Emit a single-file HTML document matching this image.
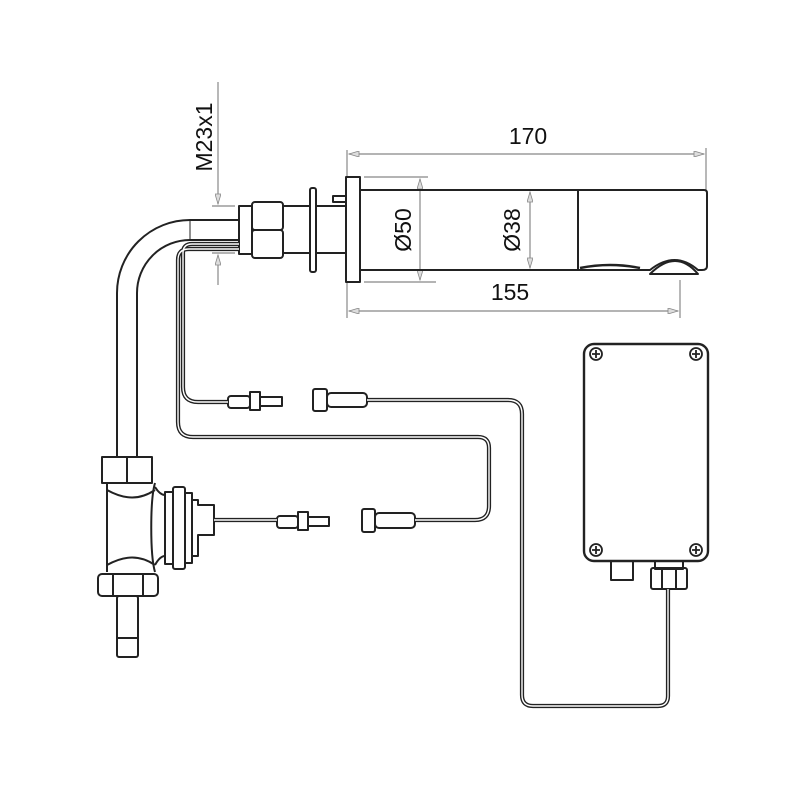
<!DOCTYPE html>
<html><head><style>body{margin:0;background:#fff}svg{display:block}</style></head><body>
<svg width="800" height="800" viewBox="0 0 800 800" xmlns="http://www.w3.org/2000/svg" font-family="Liberation Sans, sans-serif">
<defs>
<marker id="ar" viewBox="0 0 10 6" refX="10" refY="3" markerWidth="14" markerHeight="6" markerUnits="userSpaceOnUse" orient="auto-start-reverse"><path d="M0,0 L10,3 L0,6 z" fill="#ddd" stroke="#888" stroke-width="0.8"/></marker>
</defs>
<g fill="none" stroke="#888" stroke-width="1.2">
<line x1="347" y1="150" x2="347" y2="318"/><line x1="706" y1="148" x2="706" y2="190"/>
<line x1="349" y1="154" x2="704" y2="154" marker-start="url(#ar)" marker-end="url(#ar)"/>
<line x1="680" y1="280" x2="680" y2="318"/>
<line x1="349" y1="311" x2="678" y2="311" marker-start="url(#ar)" marker-end="url(#ar)"/>
<line x1="364" y1="177" x2="428" y2="177"/><line x1="364" y1="282" x2="436" y2="282"/>
<line x1="420" y1="179" x2="420" y2="280" marker-start="url(#ar)" marker-end="url(#ar)"/>
<line x1="530" y1="192" x2="530" y2="268" marker-start="url(#ar)" marker-end="url(#ar)"/>
<line x1="218" y1="82" x2="218" y2="204" marker-end="url(#ar)"/>
<line x1="218" y1="285" x2="218" y2="255" marker-end="url(#ar)"/>
<line x1="212" y1="206" x2="235" y2="206"/><line x1="212" y1="253" x2="235" y2="253"/>
</g>
<g font-size="23" fill="#111">
<text x="528" y="144" text-anchor="middle">170</text>
<text x="510" y="300" text-anchor="middle">155</text>
<text transform="translate(411,230) rotate(-90)" text-anchor="middle">Ø50</text>
<text transform="translate(520,230) rotate(-90)" text-anchor="middle">Ø38</text>
<text transform="translate(212,137) rotate(-90)" text-anchor="middle">M23x1</text>
</g>
<g fill="none" stroke="#222" stroke-width="2" stroke-linejoin="round">
<path d="M238,220 H190 A73,73 0 0 0 117,293 V457"/>
<path d="M238,240 H190 A53,53 0 0 0 137,293 V457"/>
<line x1="190" y1="220" x2="190" y2="240" stroke-width="1"/>
<rect x="239" y="206" width="13" height="48" fill="#fff"/>
<rect x="252" y="202" width="31" height="28" rx="3" fill="#fff"/>
<rect x="252" y="230" width="31" height="28" rx="3" fill="#fff"/>
<line x1="283" y1="206" x2="346" y2="206"/><line x1="283" y1="253" x2="346" y2="253"/>
<rect x="310" y="188" width="6" height="84" rx="2" fill="#fff"/>
<rect x="333" y="196" width="13" height="6" fill="#fff"/>
<rect x="346" y="177" width="14" height="105" fill="#fff"/>
<path d="M360,190 H704 Q707,190 707,193 V266 Q707,270 702,270 H698 Q675,250 650,270 H360"/>
<path d="M650,274 H698 Q676,248 650,274z"/>
<line x1="578" y1="190" x2="578" y2="270"/>
<path d="M580,268 Q610,262 640,268" stroke-width="2.5"/>
<rect x="584" y="344" width="124" height="217" rx="10" stroke-width="2.4"/>
<rect x="611" y="561" width="22" height="19"/>
<rect x="651" y="568" width="36" height="21" rx="2"/>
<rect x="655" y="561" width="28" height="8"/>
<line x1="662" y1="568" x2="662" y2="589"/><line x1="676" y1="568" x2="676" y2="589"/>
<rect x="102" y="457" width="50" height="26"/><line x1="127" y1="457" x2="127" y2="483"/>
<path d="M107,483 V572 M155,483 C150,500 150,555 155,572 M107,490 C125,500 140,500 155,490 M107,565 C125,555 140,555 155,565"/>
<path d="M155,487 Q160,495 165,495 V556 Q160,556 155,565"/>
<rect x="165" y="492" width="8" height="72"/>
<rect x="173" y="487" width="12" height="82" rx="2"/>
<rect x="185" y="493" width="7" height="70"/>
<path d="M192,500 H198 V505 H214 V535 H198 V556 H192"/>
<rect x="98" y="574" width="60" height="22" rx="4"/>
<line x1="113" y1="574" x2="113" y2="596"/><line x1="143" y1="574" x2="143" y2="596"/>
<rect x="117" y="596" width="21" height="61" rx="2"/><line x1="117" y1="638" x2="138" y2="638"/>
<rect x="228" y="396" width="22" height="12" rx="3" fill="#fff"/><rect x="250" y="392" width="10" height="18" fill="#fff"/><rect x="260" y="397" width="22" height="9" fill="#fff"/>
<rect x="277" y="516" width="21" height="12" rx="3" fill="#fff"/><rect x="298" y="512" width="10" height="18" fill="#fff"/><rect x="308" y="517" width="21" height="9" fill="#fff"/>
<rect x="313" y="389" width="14" height="22" rx="2" fill="#fff"/><rect x="327" y="393" width="40" height="14" rx="4" fill="#fff"/>
<rect x="362" y="509" width="13" height="23" rx="2" fill="#fff"/><rect x="375" y="513" width="40" height="15" rx="4" fill="#fff"/>
</g>
<g fill="none" stroke-linejoin="round">
<g stroke="#222" stroke-width="4.2">
<path d="M239,244 H192 Q183,244 183,253 V387 Q183,402 198,402 H228"/>
<path d="M239,249 H189 Q178,249 178,260 V422 Q178,437 193,437 H478 Q489,437 489,448 V506 Q489,520 475,520 H415"/>
<path d="M367,400 H508 Q522,400 522,414 V695 Q522,706 533,706 H658 Q668,706 668,696 V589"/>
<path d="M214,520 H277"/>
</g>
<g stroke="#fff" stroke-width="1.4">
<path d="M239,244 H192 Q183,244 183,253 V387 Q183,402 198,402 H228"/>
<path d="M239,249 H189 Q178,249 178,260 V422 Q178,437 193,437 H478 Q489,437 489,448 V506 Q489,520 475,520 H415"/>
<path d="M367,400 H508 Q522,400 522,414 V695 Q522,706 533,706 H658 Q668,706 668,696 V589"/>
<path d="M214,520 H277"/>
</g>
</g>
<g stroke="#222" stroke-width="1.8" fill="#fff">
<circle cx="596" cy="354" r="6"/><circle cx="696" cy="354" r="6"/><circle cx="596" cy="550" r="6"/><circle cx="696" cy="550" r="6"/>
<path d="M592,354h8M596,350v8M692,354h8M696,350v8M592,550h8M596,546v8M692,550h8M696,546v8"/>
</g>
</svg>
</body></html>
